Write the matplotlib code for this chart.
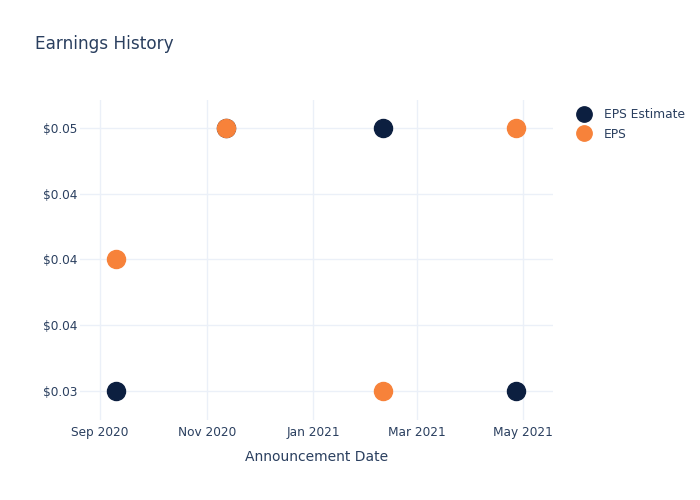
import matplotlib.pyplot as plt
import matplotlib.dates as mdates
from matplotlib.ticker import FixedLocator, FuncFormatter
import pandas as pd

# data
dates = pd.to_datetime(["2020-09-10", "2020-11-12", "2021-02-10", "2021-04-27"])
eps_estimate = [0.03, 0.05, 0.05, 0.03]
eps_actual = [0.04, 0.05, 0.03, 0.05]
y_ticks = [0.03, 0.035, 0.04, 0.045, 0.05]

text_color = "#2a3f5f"
grid_color = "#ebf0f8"
navy = "#0c1f40"
orange = "#f7823a"

fig = plt.figure(figsize=(7, 5), dpi=100)
ax = fig.add_axes([80 / 700, 80 / 500, 473 / 700, 320 / 500])

ax.plot(dates, eps_estimate, "o", color=navy, markersize=13, label="EPS Estimate", zorder=3)
ax.plot(dates, eps_actual, "o", color=orange, markersize=13, label="EPS", zorder=4)

ax.set_xlim(pd.Timestamp("2020-08-20 14:00"), pd.Timestamp("2021-05-18"))
ax.set_ylim(0.02779, 0.05213)

ax.xaxis.set_major_locator(mdates.MonthLocator(bymonth=[1, 3, 5, 7, 9, 11]))
ax.xaxis.set_major_formatter(mdates.DateFormatter("%b %Y"))
ax.yaxis.set_major_locator(FixedLocator(y_ticks))
ax.yaxis.set_major_formatter(FuncFormatter(lambda v, p: "$" + format(v, ".2f")))

ax.grid(True, color=grid_color, linewidth=1)
ax.set_axisbelow(True)
for s in ax.spines.values():
    s.set_visible(False)
ax.tick_params(axis="both", length=0, labelsize=8.7, colors=text_color)
ax.tick_params(axis="x", pad=4)
ax.tick_params(axis="y", pad=2)

ax.set_xlabel("Announcement Date", fontsize=10, color=text_color, labelpad=8)

fig.text(35 / 700, 1 - 44 / 500, "Earnings History", fontsize=12.2, color=text_color, va="center")

leg = ax.legend(loc="upper left", bbox_to_anchor=(572 / 700, 1 - 103 / 500),
                bbox_transform=fig.transFigure, frameon=False, fontsize=8.8,
                handletextpad=1.0, labelspacing=0.55, borderaxespad=0, handlelength=1.2,
                markerscale=0.85)
for t in leg.get_texts():
    t.set_color(text_color)

fig.savefig("out.png", dpi=100)
